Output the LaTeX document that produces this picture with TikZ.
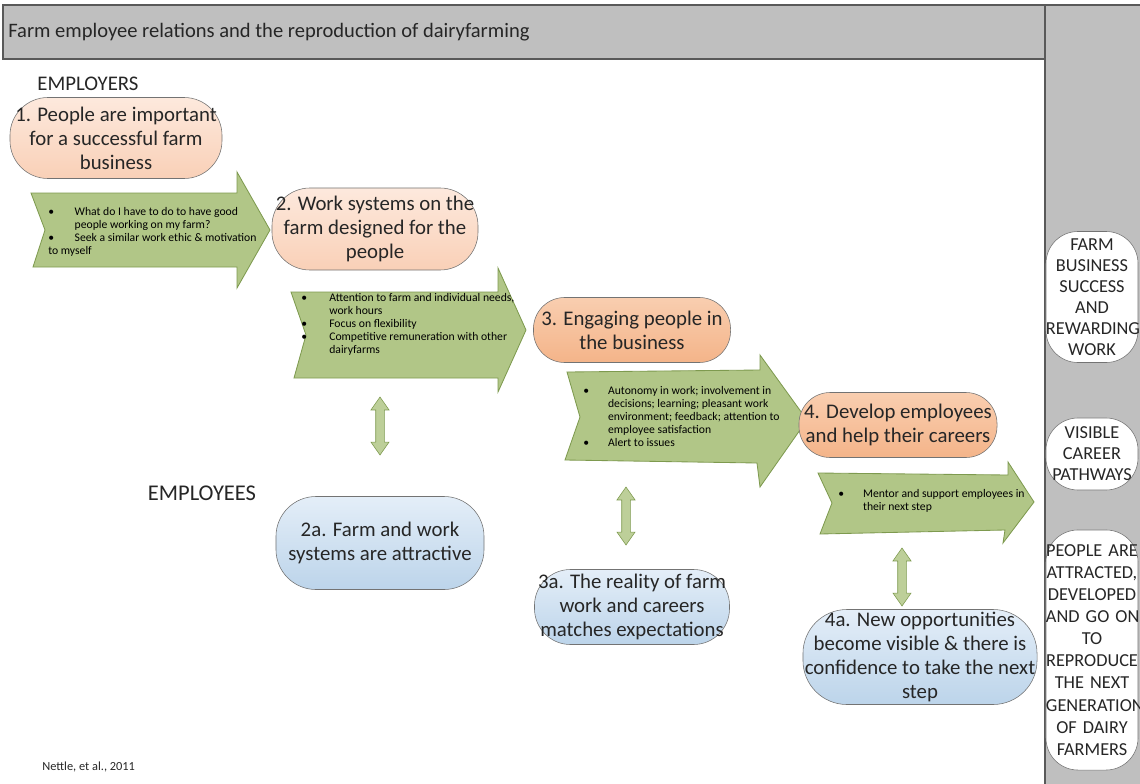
\documentclass[tikz,border=0pt]{standalone}
\usepackage{fontspec}
\setmainfont{Carlito}
\usetikzlibrary{positioning,shapes.arrows}

\definecolor{barfill}{HTML}{BFBFBF}
\definecolor{barline}{HTML}{595959}
\definecolor{peachtop}{HTML}{FDE9DD}
\definecolor{peachbot}{HTML}{F9D0B7}
\definecolor{orangetop}{HTML}{F9CEB0}
\definecolor{orangebot}{HTML}{F4B489}
\definecolor{bluetop}{HTML}{E4EEF8}
\definecolor{bluebot}{HTML}{BCD4EA}
\definecolor{leaf}{HTML}{B1C687}
\definecolor{leafline}{HTML}{7E9A4F}
\definecolor{inkgray}{HTML}{262626}

\begin{document}
\begin{tikzpicture}[
    x=0.025cm, y=-0.025cm,
    every node/.style={font=\fontsize{14.8}{17}\selectfont, text=inkgray},
    panel/.style={draw=barline, line width=1.4pt, fill=barfill},
    stage/.style={draw=black!55, align=center, inner sep=0pt},
    employer/.style={stage, top color=peachtop, bottom color=peachbot},
    engaged/.style={stage, top color=orangetop, bottom color=orangebot},
    employee/.style={stage, top color=bluetop, bottom color=bluebot},
    outcome/.style={draw=black!55, fill=white, align=center, inner sep=0pt, text width=2.3cm, rounded corners=0.8cm, font=\fontsize{13}{15}\selectfont},
    flow/.style={draw=leafline, fill=leaf, line width=0.6pt},
    note/.style={anchor=west, inner sep=0pt, font=\fontsize{8.3}{9.3}\selectfont, text=black},
    link/.style={double arrow, shape border rotate=90, draw=leafline, fill=leaf!85, inner sep=0.1cm, double arrow head extend=0.12cm, double arrow tip angle=70, minimum height=1.45cm}
]
\useasboundingbox (0,0) rectangle (1140,784);

% frame
\draw[panel] (1045,5) rectangle (1150,795);
\draw[panel] (3,5) rectangle (1045,59);
\node[anchor=west, inner sep=0pt, font=\fontsize{14.6}{17}\selectfont] (title) at (8,32) {Farm employee relations and the reproduction of dairyfarming};

% row labels
\node (employers) at (88,84) {EMPLOYERS};
\node[font=\fontsize{16}{18}\selectfont] (employees) at (202,493) {EMPLOYEES};
\node[anchor=west, inner sep=0pt, font=\fontsize{8.8}{10}\selectfont] (source) at (42,767) {Nettle, et al., 2011};

% green flow arrows
\draw[flow] (31,193) -- (237,193) -- (237,172) -- (270,230) -- (237,288) -- (237,267) -- (33,267) -- (45,230) -- cycle;
\draw[flow] (291,292) -- (498,292) -- (498,268) -- (526,330) -- (498,392) -- (498,378) -- (294,378) -- (306,335) -- cycle;
\draw[flow] (567,372) -- (760,370) -- (760,355) -- (807,420) -- (760,487) -- (757,463) -- (565,460) -- (580,417) -- cycle;
\draw[flow] (818,473) -- (1008,475) -- (1008,462) -- (1034,502) -- (1003,543) -- (1005,530) -- (820,534) -- (832,503) -- cycle;

\node[note] (note1) at (48,232) {\begin{tabular}{@{}p{0.66cm}@{}l@{}}
  \textbullet & What do I have to do to have good\\
   & people working on my farm?\\
  \textbullet & Seek a similar work ethic \& motivation\\
  \multicolumn{2}{@{}l@{}}{to myself}
\end{tabular}};
\node[note] (note2) at (301,325) {\begin{tabular}{@{}p{0.7cm}@{}l@{}}
  \textbullet & Attention to farm and individual needs,\\
   & work hours\\
  \textbullet & Focus on flexibility\\
  \textbullet & Competitive remuneration with other\\
   & dairyfarms
\end{tabular}};
\node[note] (note3) at (583,418) {\begin{tabular}{@{}p{0.62cm}@{}l@{}}
  \textbullet & Autonomy in work; involvement in\\
   & decisions; learning; pleasant work\\
   & environment; feedback; attention to\\
   & employee satisfaction\\
  \textbullet & Alert to issues
\end{tabular}};
\node[note] (note4) at (838,501) {\begin{tabular}{@{}p{0.62cm}@{}l@{}}
  \textbullet & Mentor and support employees in\\
   & their next step
\end{tabular}};

% employer side
\node[employer, minimum width=5.3cm, minimum height=2.025cm, rounded corners=0.95cm] (emp1) at (116,138) {1. People are important\\for a successful farm\\business};
\node[employer, minimum width=5.15cm, minimum height=2.05cm, rounded corners=0.95cm] (emp2) at (375,229) {2. Work systems on the\\farm designed for the\\people};
\node[engaged, minimum width=4.925cm, minimum height=1.625cm, rounded corners=0.78cm] (emp3) at (632,330) {3. Engaging people in\\the business};
\node[engaged, minimum width=4.95cm, minimum height=1.625cm, rounded corners=0.78cm] (emp4) at (898,425) {4. Develop employees\\and help their careers};

% employee side
\node[employee, minimum width=5.2cm, minimum height=2.325cm, rounded corners=1cm] (emp2a) at (380,543) {2a. Farm and work\\systems are attractive};
\node[employee, minimum width=4.875cm, minimum height=1.875cm, rounded corners=0.9cm] (emp3a) at (632,607) {3a. The reality of farm\\work and careers\\matches expectations};
\node[employee, minimum width=5.85cm, minimum height=2.375cm, rounded corners=1.1cm] (emp4a) at (920,657) {4a. New opportunities\\become visible \& there is\\confidence to take the next\\step};

% two-way links
\node[link] (link2) at (380,426) {};
\node[link] (link3) at (626,516) {};
\node[link] (link4) at (902,577) {};

% outcomes
\node[outcome, minimum height=3.275cm] (goal1) at (1092,297) {FARM\\BUSINESS\\SUCCESS\\AND\\\mbox{REWARDING}\\WORK};
\node[outcome, minimum height=1.8cm] (goal2) at (1092,454) {VISIBLE\\CAREER\\PATHWAYS};
\node[outcome, minimum height=6cm, font=\fontsize{13}{15.7}\selectfont] (goal3) at (1092,650) {\mbox{PEOPLE ARE}\\\mbox{ATTRACTED,}\\\mbox{DEVELOPED}\\\mbox{AND GO ON}\\TO\\\mbox{REPRODUCE}\\\mbox{THE NEXT}\\\mbox{GENERATION}\\\mbox{OF DAIRY}\\FARMERS};

\end{tikzpicture}
\end{document}
